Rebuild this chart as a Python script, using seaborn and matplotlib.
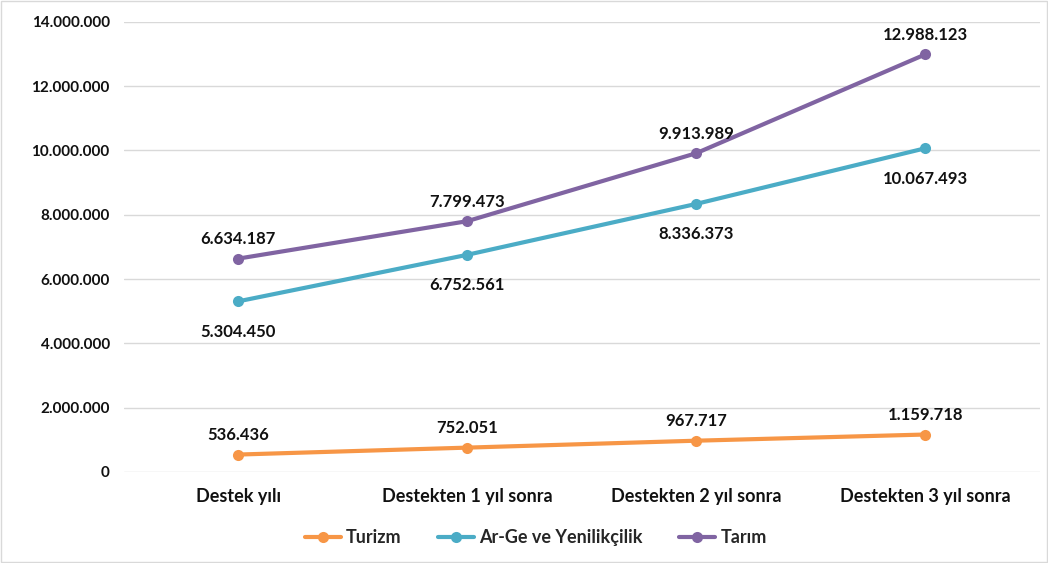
import seaborn as sns
import matplotlib.pyplot as plt
import pandas as pd
from matplotlib.ticker import FuncFormatter

# veriler
donemler = ["Destek yılı", "Destekten 1 yıl sonra", "Destekten 2 yıl sonra", "Destekten 3 yıl sonra"]
turizm = [536436, 752051, 967717, 1159718]
arge = [5304450, 6752561, 8336373, 10067493]
tarim = [6634187, 7799473, 9913989, 12988123]
seriler = ["Turizm", "Ar-Ge ve Yenilikçilik", "Tarım"]
renkler = ["#F79646", "#4BACC6", "#8064A2"]

df = pd.DataFrame({"donem": donemler * 3,
                   "seri": [seriler[0]] * 4 + [seriler[1]] * 4 + [seriler[2]] * 4,
                   "deger": turizm + arge + tarim})
df["x"] = [0, 1, 2, 3] * 3

sns.set_style("white")
plt.rcParams['font.family'] = ['Lato', 'DejaVu Sans']
plt.rcParams['font.weight'] = 'bold'

fig = plt.figure(figsize=(10.48, 5.63), dpi=100)
ax = fig.add_axes([0.118, 0.162, 0.874, 0.799])

sns.lineplot(data=df, x="x", y="deger", hue="seri", palette=renkler, marker="o",
             markersize=8, markeredgewidth=0, linewidth=3, ax=ax, legend=True)


def tr_fmt(v, pos=None):
    return f"{int(round(v)):,}".replace(",", ".")


# veri etiketleri
for vals, dy in [(turizm, 14), (arge, -22), (tarim, 14)]:
    for i, v in enumerate(vals):
        ax.annotate(tr_fmt(v), (i, v), xytext=(0, dy), textcoords="offset points",
                    ha="center", va="center", fontsize=12, fontweight="bold", color="#111111")

ax.set_xlim(-0.5, 3.5)
ax.set_ylim(0, 14000000)
ax.set_yticks(range(0, 14000001, 2000000))
ax.yaxis.set_major_formatter(FuncFormatter(tr_fmt))
ax.set_xticks(range(4))
ax.set_xticklabels(donemler)
ax.tick_params(axis="y", labelsize=11, length=0, pad=10)
ax.tick_params(axis="x", labelsize=13, length=0, pad=12)
for lab in ax.get_xticklabels() + ax.get_yticklabels():
    lab.set_fontweight("bold")
    lab.set_color("#111111")

ax.grid(axis="y", color="#D9D9D9", linewidth=1)
ax.set_axisbelow(True)
for s in ax.spines.values():
    s.set_visible(False)
ax.set_xlabel("")
ax.set_ylabel("")

handles, labels = ax.get_legend_handles_labels()
ax.legend(handles, labels, loc="center", bbox_to_anchor=(0.45, -0.147), ncol=3, frameon=False,
          prop={"size": 13, "weight": "bold"}, handlelength=2.0, columnspacing=2, handletextpad=0.3)

# çerçeve
fig.patches.append(plt.Rectangle((0.001, 0.001), 0.998, 0.998, transform=fig.transFigure,
                                 fill=False, edgecolor="#D9D9D9", linewidth=1))

plt.savefig("out.png", dpi=100)
